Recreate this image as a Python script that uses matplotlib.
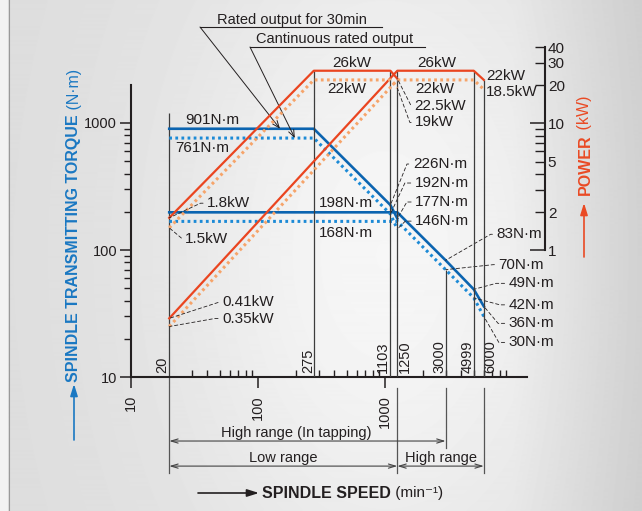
import numpy as np
import matplotlib
matplotlib.use("Agg")
import matplotlib.pyplot as plt
from matplotlib.lines import Line2D
from matplotlib.ticker import NullFormatter

plt.rcParams['font.family'] = ['Liberation Sans', 'DejaVu Sans']

# --- data ---
# low range (min-1 / N.m / kW)
speed_low = [20, 275, 1103, 1250]
torque_low_30 = [901, 901, 226, 177]
torque_low_cont = [761, 761, 192, 146]
power_low_30 = [1.8, 26, 26, 22.5]
power_low_cont = [1.5, 22, 22, 19]

# high range
speed_high_t = [20, 1250, 3000, 4999, 6000]
torque_high_30 = [198, 198, 83, 49, 36]
torque_high_cont = [168, 168, 70, 42, 30]
speed_high_p = [20, 1250, 4999, 6000]
power_high_30 = [0.29, 26, 26, 22]     # drawn position (label says 0.41kW)
power_high_cont = [0.25, 22, 22, 18.5]  # drawn position (label says 0.35kW)

marked_speeds = [20, 275, 1103, 1250, 3000, 4999, 6000]
vline_speeds = [275, 1103, 1250, 4999, 6000]
vline_tops_kw = [26, 26, 26, 26, 22]

BLUE = '#0b64b0'
BLUE_D = '#1c8ad6'
RED = '#ea4520'
ORANGE = '#f6a46a'
INK = '#231f20'
VL = '#3c3c3c'
BLUE_LBL = '#1a78c2'
RED_LBL = '#ea4a24'

W, H = 642, 511
fig = plt.figure(figsize=(W / 100, H / 100), dpi=100)

# background gradient
bg = fig.add_axes([0, 0, 1, 1])
bg.axis('off')
yy, xx = np.mgrid[0:1:H * 1j, 0:1:W * 1j]
v = 0.865 + 0.10 * np.exp(-((xx - 0.6) ** 2 / 0.12 + (yy - 0.5) ** 2 / 0.5))
v -= 0.07 * np.clip((xx - 0.8) / 0.2, 0, 1)
v[:, :8] = 0.95
bg.imshow(v, cmap='gray', vmin=0, vmax=1, extent=[0, 1, 0, 1], aspect='auto')
fig.add_artist(Line2D([8.5 / W] * 2, [0, 1], transform=fig.transFigure, color='#9a9a9a', lw=0.8))

# main axes: one decade = 127 px on both scales
ax = fig.add_axes([131 / W, (H - 377) / H, 414 / W, 330 / H])
ax.set_xscale('log')
ax.set_yscale('log')
ax.set_xlim(10, 10 ** (1 + 414 / 127))
ax.set_ylim(10, 10 ** (1 + 330 / 127))
ax.patch.set_alpha(0)

ax2 = ax.twinx()
ax2.set_yscale('log')
ax2.set_ylim(0.1, 10 ** (-1 + 330 / 127))

for s in ['top', 'right']:
    ax.spines[s].set_visible(False)
for s in ['top', 'left', 'bottom']:
    ax2.spines[s].set_visible(False)
ax.spines['left'].set_bounds(10, 2000)
ax.spines['bottom'].set_bounds(10, 13100)
ax2.spines['right'].set_bounds(1, 40)
for sp in [ax.spines['left'], ax.spines['bottom'], ax2.spines['right']]:
    sp.set_linewidth(1.5)
    sp.set_color(INK)

# torque ticks
ax.set_yticks([10, 100, 1000], labels=['10', '100', '1000'])
ax.set_yticks([20, 30, 40, 50, 60, 70, 80, 90, 200, 300, 400, 500, 600, 700, 800, 900], minor=True)
ax.yaxis.set_minor_formatter(NullFormatter())
ax.tick_params(axis='y', which='major', direction='out', length=8, width=1.1, labelsize=10.5, pad=2, colors=INK)
ax.tick_params(axis='y', which='minor', direction='out', length=5, width=1, colors=INK)

# speed ticks
ax.set_xticks([10, 100, 1000], labels=['10', '100', '1000'])
ax.set_xticks([30, 40, 50, 60, 70, 80, 90, 200, 300, 400, 500, 600, 700, 800, 900,
               2000, 3000, 4000, 5000, 6000, 7000, 8000, 9000], minor=True)
ax.xaxis.set_minor_formatter(NullFormatter())
ax.tick_params(axis='x', which='major', direction='out', length=8, width=1.1, labelsize=10.5,
               labelrotation=90, pad=5, colors=INK)
ax.tick_params(axis='x', which='minor', direction='in', length=5, width=1, colors=INK)

# power ticks
ax2.set_yticks([1, 10], labels=['1', '10'])
ax2.set_yticks([2, 3, 4, 5, 6, 7, 8, 9, 20, 30, 40],
               labels=['2', '', '', '5', '', '', '', '', '20', '30', '40'], minor=True)
ax2.tick_params(axis='y', which='major', direction='in', length=11, width=1.1, labelsize=11, pad=2, colors=INK)
ax2.tick_params(axis='y', which='minor', direction='in', length=7, width=1, labelsize=11, pad=2, colors=INK)

# vertical guide lines
ax.vlines(20, 10, 1200, color=VL, lw=0.9)
ax.vlines(3000, 10, torque_high_cont[2], color=VL, lw=0.9)
ax2.vlines(vline_speeds, 0.1, vline_tops_kw, color=VL, lw=0.9)

# curves
dots = (0, (0.9, 1.1))
ax.plot(speed_low, torque_low_30, color=BLUE, lw=1.9)
ax.plot(speed_high_t, torque_high_30, color=BLUE, lw=1.9)
ax.plot(speed_low, torque_low_cont, color=BLUE_D, lw=2.2, ls=dots)
ax.plot(speed_high_t, torque_high_cont, color=BLUE_D, lw=2.2, ls=dots)
ax2.plot(speed_low, power_low_30, color=RED, lw=1.6)
ax2.plot(speed_high_p, power_high_30, color=RED, lw=1.6)
ax2.plot(speed_low, power_low_cont, color=ORANGE, lw=2.2, ls=dots)
ax2.plot(speed_high_p, power_high_cont, color=ORANGE, lw=2.2, ls=dots)

# speed marks on the axis
mark_dx = [-7, -6, -7.5, 8, -6.6, -6, 6]
for s, dx in zip(marked_speeds, mark_dx):
    ax.annotate(str(s), xy=(s, 10), xytext=(dx, 4), textcoords='offset pixels', rotation=90,
                ha='center', va='bottom', fontsize=10.5, color=INK)


def lead(a, txt, xy, off, angle):
    a.annotate(txt, xy=xy, xytext=off, textcoords='offset pixels', ha='left', va='center',
               fontsize=11, color=INK, annotation_clip=False,
               arrowprops=dict(arrowstyle='-', lw=0.6, color=INK, linestyle=(0, (4, 3)),
                               shrinkA=1, shrinkB=0, relpos=(0, 0.5),
                               connectionstyle='angle,angleA=0,angleB=%g,rad=0' % angle))


def label(a, txt, xy, off, ha='left'):
    a.annotate(txt, xy=xy, xytext=off, textcoords='offset pixels', ha=ha, va='center',
               fontsize=11, color=INK)


# torque labels
label(ax, '901N·m', (20, 901), (16, 8.7))
label(ax, '761N·m', (20, 761), (6, -10))
label(ax, '198N·m', (275, 198), (5, 9.3))
label(ax, '168N·m', (275, 168), (5, -11.6))
lead(ax, '226N·m', (1103, 226), (22.5, 41), 68)
lead(ax, '192N·m', (1103, 192), (24.5, 31), 65)
lead(ax, '177N·m', (1250, 177), (18, 16.5), 60)
lead(ax, '146N·m', (1250, 146), (18, 8), 45)
lead(ax, '83N·m', (3000, 83), (51, 26), 30)
lead(ax, '70N·m', (3000, 70), (53, 5), 6)
lead(ax, '49N·m', (4999, 49), (35, 6), 15)
lead(ax, '42N·m', (4999, 42), (35, -7), -15)
lead(ax, '36N·m', (6000, 36), (25, -17), -50)
lead(ax, '30N·m', (6000, 30), (25, -26), -60)

# power labels
lead(ax2, '1.8kW', (20, power_low_30[0]), (38, 14.6), 25)
lead(ax2, '1.5kW', (20, power_low_cont[0]), (16, -11.4), -40)
lead(ax2, '0.41kW', (20, power_high_30[0]), (53, 16), 18)
lead(ax2, '0.35kW', (20, power_high_cont[0]), (53, 8), 10)
lead(ax2, '22.5kW', (1250, 22.5), (17, -27), -63)
lead(ax2, '19kW', (1250, 19), (18, -34.4), -70)
label(ax2, '26kW', (551, 26), (0, 8), ha='center')
label(ax2, '22kW', (551, 22), (-5.7, -9.5), ha='center')
label(ax2, '26kW', (2500, 26), (1, 8), ha='center')
label(ax2, '22kW', (2500, 22), (-1, -9.5), ha='center')
label(ax2, '22kW', (6000, 22), (2, 3.5))
label(ax2, '18.5kW', (6000, 18.5), (2, -3))

# speed range arrows under the axis
xt = ax.get_xaxis_transform()
for x0, y0, y1 in [(20, 0, -0.291), (1250, -0.033, -0.291), (3000, -0.033, -0.215), (6000, -0.033, -0.291)]:
    ax.plot([x0, x0], [y0, y1], transform=xt, color='#555555', lw=0.9, clip_on=False)
rng = dict(arrowstyle='<->,head_length=0.5,head_width=0.15', lw=0.8, color='#444444', shrinkA=0, shrinkB=0)
ax.annotate('', xy=(3000, -0.194), xytext=(20, -0.194), xycoords=xt, arrowprops=rng, annotation_clip=False)
ax.annotate('', xy=(1250, -0.27), xytext=(20, -0.27), xycoords=xt, arrowprops=rng, annotation_clip=False)
ax.annotate('', xy=(6000, -0.27), xytext=(1250, -0.27), xycoords=xt, arrowprops=rng, annotation_clip=False)
ax.text(0.40, -0.17, 'High range (In tapping)', transform=ax.transAxes, ha='center', va='center',
        fontsize=10.5, color=INK)
ax.text(0.367, -0.245, 'Low range', transform=ax.transAxes, ha='center', va='center', fontsize=10.5, color=INK)
ax.text(0.749, -0.245, 'High range', transform=ax.transAxes, ha='center', va='center', fontsize=10.5, color=INK)

# top callouts
fig.text(291.5 / W, 1 - 20 / H, 'Rated output for 30min', ha='center', va='center', fontsize=10.5, color=INK)
fig.add_artist(Line2D([200 / W, 382 / W], [1 - 27 / H] * 2, transform=fig.transFigure, lw=0.8, color=INK))
fig.text(335 / W, 1 - 39 / H, 'Cantinuous rated output', ha='center', va='center', fontsize=10.5, color=INK)
fig.add_artist(Line2D([250 / W, 425 / W], [1 - 47 / H] * 2, transform=fig.transFigure, lw=0.8, color=INK))
call = dict(arrowstyle='->,head_length=0.5,head_width=0.2', lw=0.7, color=INK, shrinkA=0, shrinkB=0)
ax.annotate('', xy=(149, 901), xytext=(200 / W, 1 - 27 / H), textcoords='figure fraction',
            arrowprops=call, annotation_clip=False)
ax.annotate('', xy=(195, 761), xytext=(250 / W, 1 - 47 / H), textcoords='figure fraction',
            arrowprops=call, annotation_clip=False)

# axis titles
head = dict(arrowstyle='-|>,head_length=0.7,head_width=0.22', lw=1.2, shrinkA=0, shrinkB=0)
t1 = fig.text(74 / W, 1 - 382 / H, 'SPINDLE TRANSMITTING TORQUE', rotation=90, ha='center', va='bottom',
              fontsize=11.5, fontweight='bold', color=BLUE_LBL)
ax.annotate(' (N·m)', xy=(0.5, 1), xycoords=t1, rotation=90, ha='center', va='bottom',
            fontsize=11.5, color=BLUE_LBL, annotation_clip=False)
ax.annotate('', xy=(74 / W, 1 - 384 / H), xytext=(74 / W, 1 - 440 / H), xycoords='figure fraction',
            arrowprops=dict(head, color=BLUE_LBL), annotation_clip=False)

t2 = fig.text(585 / W, 1 - 195 / H, 'POWER', rotation=90, ha='center', va='bottom',
              fontsize=11.5, fontweight='bold', color=RED_LBL)
ax.annotate(' (kW)', xy=(0.5, 1), xycoords=t2, rotation=90, ha='center', va='bottom',
            fontsize=11.5, color=RED_LBL, annotation_clip=False)
ax.annotate('', xy=(584 / W, 1 - 203 / H), xytext=(584 / W, 1 - 257 / H), xycoords='figure fraction',
            arrowprops=dict(head, color=RED_LBL), annotation_clip=False)

t3 = fig.text(262 / W, 1 - 493 / H, 'SPINDLE SPEED', ha='left', va='center',
              fontsize=11.5, fontweight='bold', color=INK)
ax.annotate(' (min⁻¹)', xy=(1, 0.5), xycoords=t3, ha='left', va='center',
            fontsize=11, color=INK, annotation_clip=False)
ax.annotate('', xy=(259 / W, 1 - 493 / H), xytext=(198 / W, 1 - 493 / H), xycoords='figure fraction',
            arrowprops=dict(head, color=INK), annotation_clip=False)

fig.savefig('out.png', dpi=100)
